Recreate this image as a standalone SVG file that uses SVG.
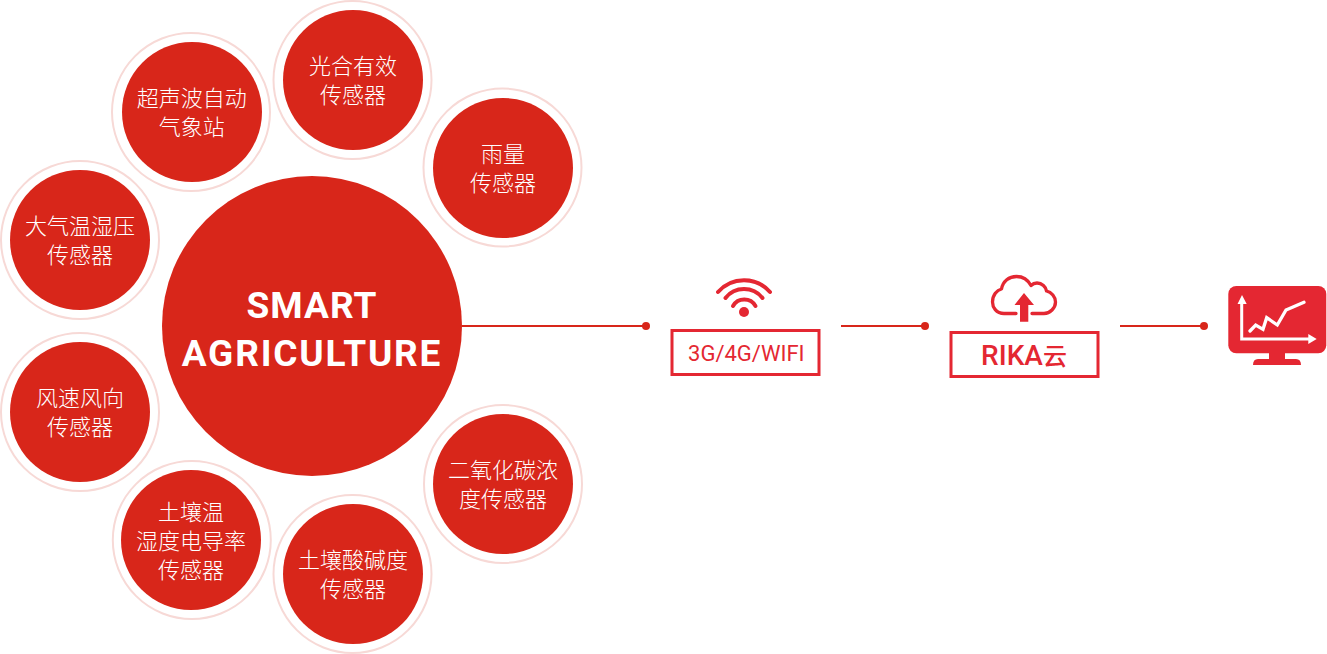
<svg xmlns="http://www.w3.org/2000/svg" width="1327" height="654" viewBox="0 0 1327 654">
<style>
.ring{fill:none;stroke:#f7d9d6;stroke-width:2}
.disc{fill:#d8261a}
.s{font:300 22px "Noto Sans CJK SC","Noto Sans",sans-serif;fill:#fff;text-anchor:middle}
.main{font:700 37px "Roboto","Liberation Sans",sans-serif;fill:#fff;text-anchor:middle}
.line{stroke:#d8261a;stroke-width:2;fill:none}
.dot{fill:#d8261a}
.box{fill:#fff;stroke:#e42732;stroke-width:3}
.ic{fill:none;stroke:#e42732;stroke-linecap:round}
.lab{fill:#e42732;text-anchor:middle}
</style>
<g id="connectors">
<path class="line" d="M462 326H646"/><circle class="dot" cx="646" cy="326" r="4"/>
<path class="line" d="M841 326H925"/><circle class="dot" cx="925" cy="326" r="4"/>
<path class="line" d="M1120 326H1204"/><circle class="dot" cx="1204" cy="326" r="4"/>
</g>
<g id="hub"><circle class="disc" cx="312" cy="326" r="150"/>
<text class="main" x="312" y="317.500" style="letter-spacing:1px">SMART</text><text class="main" x="312" y="366" style="letter-spacing:1.8px">AGRICULTURE</text></g>
<g id="n-par"><circle class="ring" cx="352.500" cy="80" r="79"/><circle class="disc" cx="353" cy="80" r="70"/>
<text class="s" x="353" y="74">光合有效</text><text class="s" x="353" y="103">传感器</text></g>
<g id="n-weather"><circle class="ring" cx="191" cy="112" r="79"/><circle class="disc" cx="192" cy="112" r="70"/>
<text class="s" x="191.700" y="106">超声波自动</text><text class="s" x="191.700" y="135">气象站</text></g>
<g id="n-rain"><circle class="ring" cx="502.500" cy="167.500" r="79"/><circle class="disc" cx="503" cy="168" r="70"/>
<text class="s" x="503" y="162">雨量</text><text class="s" x="503" y="191">传感器</text></g>
<g id="n-air"><circle class="ring" cx="80" cy="240" r="79"/><circle class="disc" cx="80" cy="240" r="70"/>
<text class="s" x="80" y="234">大气温湿压</text><text class="s" x="80" y="263">传感器</text></g>
<g id="n-wind"><circle class="ring" cx="80" cy="412" r="79"/><circle class="disc" cx="80" cy="412" r="70"/>
<text class="s" x="80" y="406">风速风向</text><text class="s" x="80" y="435">传感器</text></g>
<g id="n-soil"><circle class="ring" cx="191.800" cy="540" r="79"/><circle class="disc" cx="191" cy="540" r="70"/>
<text class="s" x="191" y="520">土壤温</text><text class="s" x="191" y="549">湿度电导率</text><text class="s" x="191" y="578">传感器</text></g>
<g id="n-ph"><circle class="ring" cx="352.500" cy="574" r="79"/><circle class="disc" cx="353" cy="574" r="70"/>
<text class="s" x="353" y="568">土壤酸碱度</text><text class="s" x="353" y="597">传感器</text></g>
<g id="n-co2"><circle class="ring" cx="503" cy="484" r="79"/><circle class="disc" cx="503" cy="484" r="70"/>
<text class="s" x="503" y="478">二氧化碳浓</text><text class="s" x="503" y="507">度传感器</text></g>
<g id="net">
<path class="ic" stroke-width="4" d="M718 292A34.500 34.500 0 0 1 770 292"/>
<path class="ic" stroke-width="4" d="M725.500 298A23.700 23.700 0 0 1 762.500 298"/>
<path class="ic" stroke-width="4" d="M733 306A13 13 0 0 1 755.500 306"/>
<circle cx="744" cy="312" r="5" fill="#e42732"/>
<rect class="box" x="672" y="330.500" width="147" height="44"/>
<text class="lab" x="746.300" y="361" style="font:400 22px Roboto,'Liberation Sans',sans-serif">3G/4G/WIFI</text>
</g>
<g id="cloud">
<path class="ic" stroke-width="3.300" stroke-linejoin="round" d="M1016 313.500H1004C996 313.500 992.500 307 992.500 302C992.500 295 997 290 1001.500 289C1003 281 1009 276.500 1016.500 276.500C1023 276.500 1028 280 1031 285.500C1033 283.500 1035 283 1037 283C1042 283 1046 287 1046.500 291C1051.500 292 1055.500 297 1055.500 302C1055.500 308 1050 313.500 1044 313.500H1032"/>
<path fill="#e42732" d="M1024 293L1034 305H1028.300V321.700H1020V305H1014.500Z"/>
<rect class="box" x="951" y="332.500" width="147" height="44"/>
<text class="lab" x="1024" y="365" style="font:500 28px Roboto,sans-serif">RIKA<tspan style="font:500 24px 'Noto Sans CJK SC',sans-serif">云</tspan></text>
</g>
<g id="monitor">
<rect x="1228.300" y="286" width="98" height="67.300" rx="8" fill="#e42732"/>
<path fill="#e42732" d="M1269 352H1285V359H1296Q1301 359 1301 365H1253Q1253 359 1258 359H1269Z"/>
<path fill="none" stroke="#fff" stroke-width="3" d="M1241.700 300V339H1311"/>
<path fill="#fff" d="M1242 295L1246.700 304H1237.500ZM1316.700 339L1308.300 334V344Z"/>
<path fill="none" stroke="#fff" stroke-width="3.300" stroke-linecap="round" d="M1250 331L1255.700 325L1263 329.300L1266.700 317.700L1277.300 325L1286 310L1304 302.300"/>
</g>
</svg>
